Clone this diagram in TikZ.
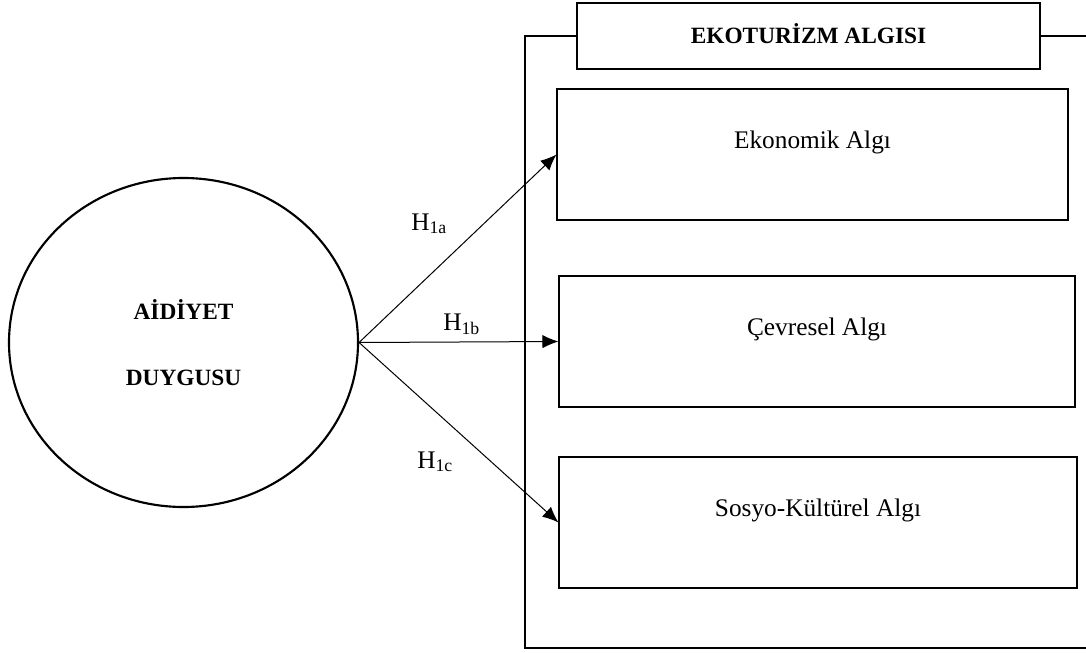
\documentclass[tikz,border=0pt]{standalone}
\usepackage{fontspec}
\setmainfont{Liberation Serif}
\usetikzlibrary{arrows.meta, shapes.geometric, positioning}
\tikzset {
    construct/.style = {
        draw,
        shape = ellipse,
        line width = 1.6pt,
        inner sep = 0pt,
        minimum width = 261.75pt,
        minimum height = 246.75pt,
        align = center,
        font = {\fontsize{17.5}{49}\selectfont\bfseries} % both lines of the construct
    },
    heading/.style args = {#1}{
        draw,
        shape = rectangle,
        line width = 0.8pt,
        minimum width = 347.25pt,
        minimum height = 49.5pt,
        label = {[anchor=base, yshift=1.5pt, font=\fontsize{17.5}{21}\selectfont\bfseries]center:#1}
    },
    factor/.style args = {#1}{
        draw,
        shape = rectangle,
        line width = 0.8pt,
        minimum height = 98.25pt,
        label = {[anchor=base, yshift=9pt, font=\fontsize{19}{23}\selectfont]center:#1} % text sits high in the box
    },
    hypothesis/.style = {
        anchor = base west,
        inner sep = 0pt,
        font = {\fontsize{19}{23}\selectfont}
    },
    link/.style = {
        -{Latex[length=12pt, width=10pt]},
        line width = 0.75pt
    },
    panel/.style = {
        line width = 1.8pt
    }
}

\begin{document}
\begin{tikzpicture}[x=0.75pt, y=-0.75pt]
        \useasboundingbox (0,0) rectangle (1086,653);

        % Left : the construct
        \node [construct] at (183.5, 342.5)                          (belonging) {AİDİYET\\DUYGUSU};

        % Right : title and the three dimensions
        \node [heading={EKOTURİZM ALGISI}] at (808.5, 36)            (title)     {};
        \node [factor={Ekonomik Algı}, minimum width=383.25pt]
              at (812.5, 154.5)                                      (econ)      {};
        \node [factor={Çevresel Algı}, minimum width=387pt]
              at (817, 341.5)                                        (envir)     {};
        \node [factor={Sosyo-Kültürel Algı}, minimum width=388.5pt]
              at (818, 522.5)                                        (socio)     {};

        % Hypothesis labels
        \node [hypothesis] at (411, 230)                             (h1a)       {H\textsubscript{1a}};
        \node [hypothesis] at (443, 330)                             (h1b)       {H\textsubscript{1b}};
        \node [hypothesis] at (417, 468)                             (h1c)       {H\textsubscript{1c}};

        % Frame corners (right side runs off the page)
        \coordinate (frameNW) at (525, 36);
        \coordinate (frameSW) at (525, 648);
        \coordinate (frameSE) at (1094, 648);
        \coordinate (frameNE) at (1094, 36);

        \draw [panel]   (title.west)    --  (frameNW)   --  (frameSW)   --  (frameSE);
        \draw [panel]   (title.east)    --  (frameNE);

        \draw [link]    (belonging.east)    --  (econ.west);
        \draw [link]    (belonging.east)    --  (envir.west);
        \draw [link]    (belonging.east)    --  (socio.west);
    \end{tikzpicture}
\end{document}
